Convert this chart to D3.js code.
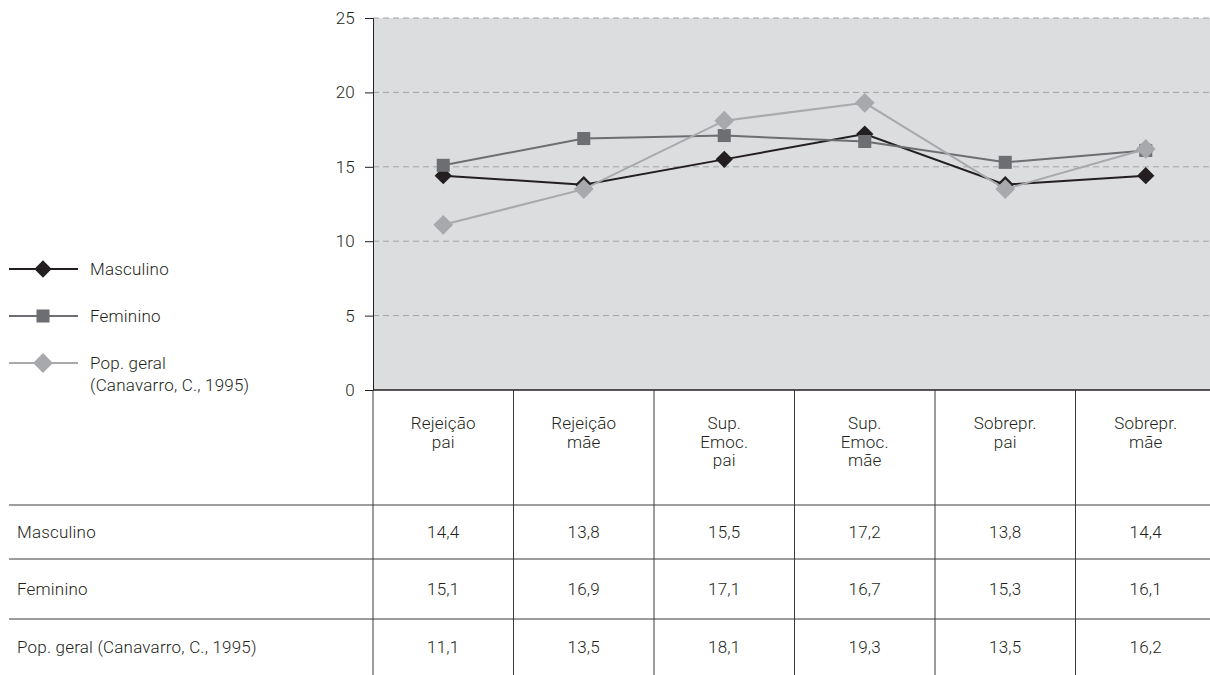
<!DOCTYPE html>
<html>
<head>
<meta charset="utf-8">
<script src="https://cdn.jsdelivr.net/npm/d3@7"></script>
<style>
  body { margin: 0; background: #fff; }
  svg text { font-family: Roboto, "DejaVu Sans", sans-serif; font-weight: 300; fill: #231f20; letter-spacing: 0.2px; }
</style>
</head>
<body>
<script>
// Data
var categories = [["Rejeição", "pai"], ["Rejeição", "mãe"], ["Sup.", "Emoc.", "pai"],
                  ["Sup.", "Emoc.", "mãe"], ["Sobrepr.", "pai"], ["Sobrepr.", "mãe"]];
var seriesNames = ["Masculino", "Feminino", "Pop. geral (Canavarro, C., 1995)"];
var legendNames = [["Masculino"], ["Feminino"], ["Pop. geral", "(Canavarro, C., 1995)"]];
var masculino = [14.4, 13.8, 15.5, 17.2, 13.8, 14.4];
var feminino = [15.1, 16.9, 17.1, 16.7, 15.3, 16.1];
var popGeral = [11.1, 13.5, 18.1, 19.3, 13.5, 16.2];
var yTicks = [0, 5, 10, 15, 20, 25];

var colors = ["#231f20", "#6d6e71", "#a7a9ac"];
var symbols = [d3.symbolDiamond2, d3.symbolSquare, d3.symbolDiamond2];
var symSizes = [190, 170, 250];

var w = 1210, h = 675;
var plotLeft = 373, plotTop = 18, plotBottom = 390, bandW = 140.5;
var rowLines = [390, 505, 559, 619, 675];
var fontSize = "17px";

var svg = d3.select("body").append("svg")
    .attr("width", w)
    .attr("height", h);

var keys = categories.map(function(c, i) { return "c" + i; });

var xScale = d3.scaleBand()
    .domain(keys)
    .range([plotLeft, plotLeft + bandW * keys.length]);

var yScale = d3.scaleLinear()
    .domain([0, 25])
    .range([plotBottom, plotTop]);

// plot background
svg.append("rect")
    .attr("x", plotLeft)
    .attr("y", yScale(25))
    .attr("width", w - plotLeft)
    .attr("height", yScale(0) - yScale(25))
    .attr("fill", "#dcdddf");

// gridlines
svg.selectAll(".grid")
    .data(yTicks.filter(function(d) { return d > 0; }))
    .enter().append("line")
    .attr("x1", plotLeft)
    .attr("x2", w)
    .attr("y1", function(d) { return yScale(d); })
    .attr("y2", function(d) { return yScale(d); })
    .attr("stroke", "#a3a4a6")
    .attr("stroke-width", 1)
    .attr("stroke-dasharray", "6,4");

// y axis
var yAxis = d3.axisLeft(yScale).tickValues(yTicks).tickSize(8).tickPadding(10);
var gy = svg.append("g")
    .attr("transform", "translate(" + plotLeft + ",0)")
    .call(yAxis);
gy.select(".domain").attr("stroke", "#231f20");
gy.selectAll(".tick line").attr("stroke", "#231f20");
gy.selectAll(".tick text")
    .style("font-family", null)
    .style("font-size", fontSize)
    .attr("font-family", null)
    .attr("fill", "#231f20");

// table: horizontal lines
svg.selectAll(".row-line")
    .data(rowLines.slice(1, 4))
    .enter().append("line")
    .attr("x1", 9)
    .attr("x2", w)
    .attr("y1", function(d) { return d; })
    .attr("y2", function(d) { return d; })
    .attr("stroke", "#3a3a3a")
    .attr("stroke-width", 1);

svg.append("line")
    .attr("x1", plotLeft)
    .attr("x2", w)
    .attr("y1", plotBottom)
    .attr("y2", plotBottom)
    .attr("stroke", "#231f20")
    .attr("stroke-width", 1.5);

// table: vertical lines
svg.selectAll(".col-line")
    .data(keys)
    .enter().append("line")
    .attr("x1", function(d) { return xScale(d); })
    .attr("x2", function(d) { return xScale(d); })
    .attr("y1", plotBottom)
    .attr("y2", h)
    .attr("stroke", "#3a3a3a")
    .attr("stroke-width", 1);

// category headers
var headers = svg.selectAll(".header")
    .data(categories)
    .enter().append("text")
    .attr("text-anchor", "middle")
    .style("font-size", fontSize)
    .attr("y", 429);
headers.selectAll("tspan")
    .data(function(d, i) { return d.map(function(t) { return { t: t, i: i }; }); })
    .enter().append("tspan")
    .attr("x", function(d) { return xScale(keys[d.i]) + xScale.bandwidth() / 2; })
    .attr("dy", function(d, j) { return j === 0 ? 0 : 18.5; })
    .text(function(d) { return d.t; });

// table values
var fmt = d3.formatLocale({ decimal: ",", thousands: ".", grouping: [3], currency: ["", ""] }).format(".1f");
var allSeries = [masculino, feminino, popGeral];

allSeries.forEach(function(vals, s) {
    var yMid = (rowLines[s + 1] + rowLines[s + 2]) / 2 + 6;
    svg.append("text")
        .attr("x", 17)
        .attr("y", yMid)
        .style("font-size", fontSize)
        .text(seriesNames[s]);
    svg.selectAll(".val" + s)
        .data(vals)
        .enter().append("text")
        .attr("x", function(d, i) { return xScale(keys[i]) + xScale.bandwidth() / 2; })
        .attr("y", yMid)
        .attr("text-anchor", "middle")
        .style("font-size", fontSize)
        .text(function(d) { return fmt(d); });
});

// lines + markers
var line = d3.line()
    .x(function(d, i) { return xScale(keys[i]) + xScale.bandwidth() / 2; })
    .y(function(d) { return yScale(d); });

allSeries.forEach(function(vals, s) {
    svg.append("path")
        .datum(vals)
        .attr("fill", "none")
        .attr("stroke", colors[s])
        .attr("stroke-width", 2)
        .attr("d", line);
    svg.selectAll(".pt" + s)
        .data(vals)
        .enter().append("path")
        .attr("transform", function(d, i) {
            return "translate(" + (xScale(keys[i]) + xScale.bandwidth() / 2) + "," + yScale(d) + ")";
        })
        .attr("d", d3.symbol().type(symbols[s]).size(symSizes[s]))
        .attr("fill", colors[s]);
});

// legend
var legendY = [269, 316, 363];
legendNames.forEach(function(name, s) {
    var g = svg.append("g").attr("transform", "translate(0," + legendY[s] + ")");
    g.append("line")
        .attr("x1", 9).attr("x2", 78)
        .attr("y1", 0).attr("y2", 0)
        .attr("stroke", colors[s])
        .attr("stroke-width", 2);
    g.append("path")
        .attr("transform", "translate(43,0)")
        .attr("d", d3.symbol().type(symbols[s]).size(symSizes[s]))
        .attr("fill", colors[s]);
    var t = g.append("text")
        .attr("y", 6)
        .style("font-size", fontSize);
    t.selectAll("tspan")
        .data(name)
        .enter().append("tspan")
        .attr("x", 90)
        .attr("dy", function(d, j) { return j === 0 ? 0 : 22; })
        .text(function(d) { return d; });
});
</script>
</body>
</html>
